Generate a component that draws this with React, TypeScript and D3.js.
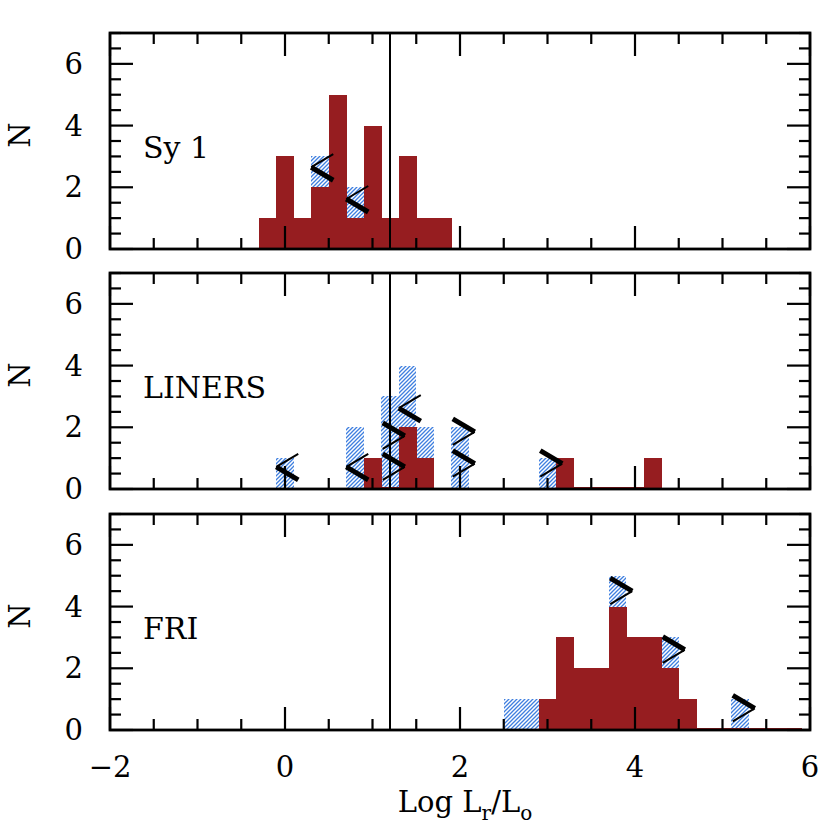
import React from 'react'
import * as d3 from 'd3'

// bin width 0.2 in log Lr/Lo
const BIN = 0.2

// Sy 1: bins start at -0.3
const sy1Start = -0.3
const sy1All = [1, 3, 1, 3, 5, 2, 4, 1, 3, 1, 1]
const sy1Det = [1, 3, 1, 2, 5, 1, 4, 1, 3, 1, 1]
const sy1Limits = [
  { bin: 0.3, y: 2.65, dir: '<' },
  { bin: 0.7, y: 1.62, dir: '<' },
]

// LINERS: bins start at -0.1
const linStart = -0.1
const linAll = [1, 0, 0, 0, 2, 1, 3, 4, 2, 0, 2, 0, 0, 0, 0, 1, 1, 0, 0, 0, 0, 1]
const linDet = [null, null, null, null, null, 1, 0, 2, 1, null, null, null, null, null, null, null, 1, 0, 0, 0, 0, 1]
const linLimits = [
  { bin: -0.1, y: 0.72, dir: '<' },
  { bin: 0.7, y: 0.72, dir: '<' },
  { bin: 1.3, y: 2.62, dir: '<' },
  { bin: 1.1, y: 1.72, dir: '>' },
  { bin: 1.1, y: 0.72, dir: '>' },
  { bin: 1.9, y: 1.85, dir: '>' },
  { bin: 1.9, y: 0.82, dir: '>' },
  { bin: 2.9, y: 0.82, dir: '>' },
]

// FRI: bins start at 2.5
const friStart = 2.5
const friAll = [1, 1, 1, 3, 2, 2, 5, 3, 3, 3, 1, 0, 0, 1, 0, 0, 0]
const friDet = [null, null, 1, 3, 2, 2, 4, 3, 3, 2, 1, 0, 0, 0, 0, 0, 0]
const friLimits = [
  { bin: 3.7, y: 4.5, dir: '>' },
  { bin: 4.3, y: 2.6, dir: '>' },
  { bin: 5.1, y: 0.7, dir: '>' },
]

const panels = [
  { label: 'Sy 1', start: sy1Start, all: sy1All, det: sy1Det, limits: sy1Limits },
  { label: 'LINERS', start: linStart, all: linAll, det: linDet, limits: linLimits },
  { label: 'FRI', start: friStart, all: friAll, det: friDet, limits: friLimits },
]

const xTickLabels = [-2, 0, 2, 4, 6]
const yTickLabels = [0, 2, 4, 6]
const divider = 1.2

const W = 830
const left = 110
const right = 810
const panelTops = [33, 273, 514]
const panelH = 216
const RED = '#961d20'
const FONT = '"DejaVu Serif", serif'

const x = d3.scaleLinear().domain([-2, 6]).range([left, right])

function Chevron({ cx, cy, dir }: { cx: number; cy: number; dir: string }) {
  const w = 22
  const h = 13
  if (dir === '<') {
    return (
      <g stroke="#000" fill="none">
        <line x1={cx} y1={cy} x2={cx + w} y2={cy - h} strokeWidth={2} />
        <line x1={cx} y1={cy} x2={cx + w} y2={cy + h} strokeWidth={5} />
      </g>
    )
  }
  return (
    <g stroke="#000" fill="none">
      <line x1={cx - w} y1={cy - h} x2={cx} y2={cy} strokeWidth={5} />
      <line x1={cx - w} y1={cy + h} x2={cx} y2={cy} strokeWidth={2} />
    </g>
  )
}

function Panel({ p, top, last }: { p: any; top: number; last: boolean }) {
  const y = d3.scaleLinear().domain([0, 7]).range([top + panelH, top])
  const y0 = y(0)
  const xMinor = d3.range(-2, 6.001, 0.5)
  const yMinor = d3.range(0, 7.001, 0.5)
  const bx = (i: number) => x(p.start + i * BIN)
  return (
    <g>
      {p.all.map((v: number, i: number) =>
        v > 0 ? (
          <rect key={'h' + i} x={bx(i)} width={bx(i + 1) - bx(i)}
            y={y(v)} height={y0 - y(v)} fill="url(#hatch)" shapeRendering="crispEdges" />
        ) : null
      )}
      {p.det.map((v: number | null, i: number) =>
        v === null ? null : (
          <rect key={'r' + i} x={bx(i)} width={bx(i + 1) - bx(i) + 0.6}
            y={v > 0 ? y(v) : y0 - 2.5} height={v > 0 ? y0 - y(v) : 2.5} fill={RED} shapeRendering="crispEdges" />
        )
      )}
      {p.limits.map((l: any, i: number) => (
        <Chevron key={'c' + i} dir={l.dir} cy={y(l.y)}
          cx={l.dir === '<' ? x(l.bin) : x(l.bin + BIN) + 6} />
      ))}
      <line x1={x(divider)} x2={x(divider)} y1={top} y2={y0} stroke="#000" strokeWidth={2} />
      {xMinor.map((t) => {
        const major = Math.abs(t % 2) < 1e-6
        const len = major ? 23 : 11
        return (
          <g key={'xt' + t} stroke="#000" strokeWidth={2.2}>
            <line x1={x(t)} x2={x(t)} y1={y0} y2={y0 - len} />
            <line x1={x(t)} x2={x(t)} y1={top} y2={top + len} />
          </g>
        )
      })}
      {yMinor.map((t) => {
        const major = Math.abs(t % 2) < 1e-6
        const len = major ? 23 : 11
        return (
          <g key={'yt' + t} stroke="#000" strokeWidth={2.2}>
            <line x1={left} x2={left + len} y1={y(t)} y2={y(t)} />
            <line x1={right} x2={right - len} y1={y(t)} y2={y(t)} />
          </g>
        )
      })}
      <rect x={left} y={top} width={right - left} height={panelH} fill="none" stroke="#000" strokeWidth={2.8} />
      {yTickLabels.map((t) => (
        <text key={'yl' + t} x={left - 27} y={y(t) + 10} textAnchor="end" fontSize={29} fontFamily={FONT}>{t}</text>
      ))}
      <text transform={`translate(${30},${top + panelH / 2 - 6}) rotate(-90)`} textAnchor="middle" fontSize={29} fontFamily={FONT}>N</text>
      <text x={143} y={top + 125} fontSize={30} fontFamily={FONT}>{p.label}</text>
      {last && xTickLabels.map((t) => (
        <text key={'xl' + t} x={x(t)} y={y0 + 47} textAnchor="middle" fontSize={29} fontFamily={FONT}>
          {t < 0 ? '\u2212' + Math.abs(t) : t}
        </text>
      ))}
    </g>
  )
}

export default function App() {
  return (
    <svg width={W} height={W} style={{ position: 'absolute', left: 0, top: 0, background: '#fff' }}>
      <defs>
        <pattern id="hatch" patternUnits="userSpaceOnUse" width={4} height={4}>
          <rect width={4} height={4} fill="#fff" />
          <path d="M-1,1 l2,-2 M0,4 l4,-4 M3,5 l2,-2" stroke="#3f7fe0" strokeWidth={1.3} />
        </pattern>
      </defs>
      <rect width={W} height={W} fill="#fff" />
      {panels.map((p, i) => (
        <Panel key={p.label} p={p} top={panelTops[i]} last={i === panels.length - 1} />
      ))}
      <text x={465} y={812} textAnchor="middle" fontSize={29} fontFamily={FONT}>
        Log L<tspan fontSize={20} dy={8}>r</tspan><tspan dy={-8}>/L</tspan><tspan fontSize={20} dy={8}>o</tspan>
      </text>
    </svg>
  )
}
